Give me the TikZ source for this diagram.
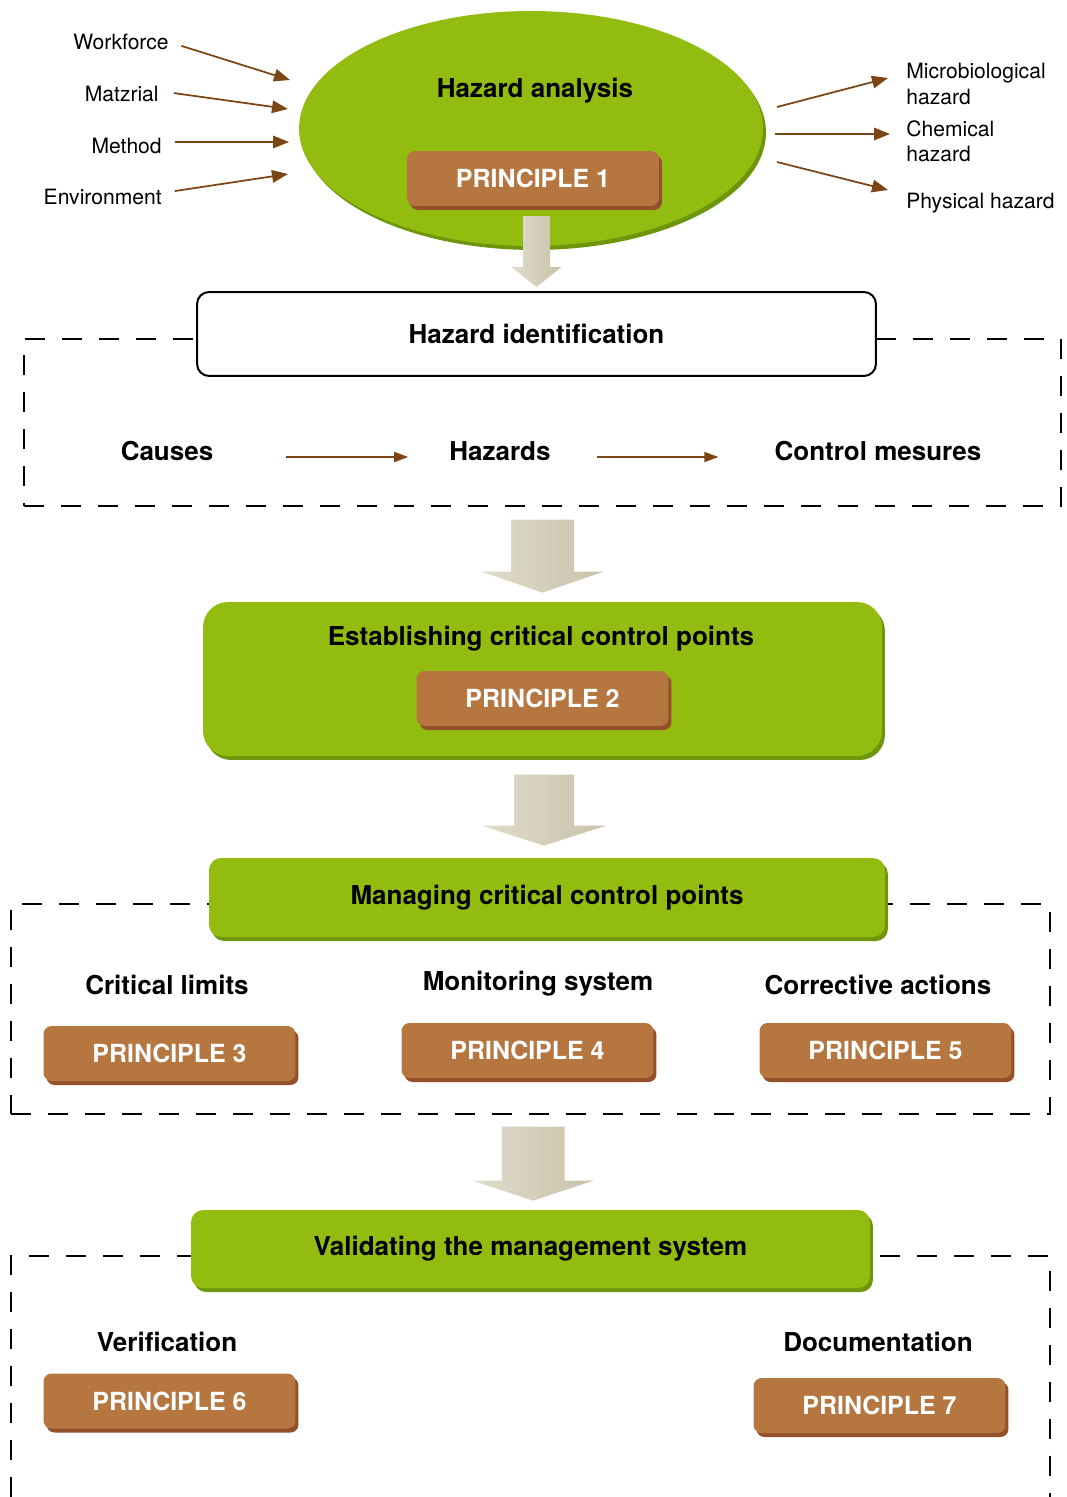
\documentclass[tikz,border=0pt]{standalone}
\usepackage{fontspec}
\setmainfont{TeX Gyre Heros}
\usepackage{tikz}
\usetikzlibrary{shapes.geometric,arrows.meta}
\definecolor{leaf}{HTML}{93BC10}
\definecolor{leafdark}{HTML}{6E960C}
\definecolor{clay}{HTML}{B57640}
\definecolor{claydark}{HTML}{94502A}
\definecolor{rust}{HTML}{7B4614}
\definecolor{stone}{HTML}{C9C2AA}
\definecolor{stonelight}{HTML}{E0DCCB}

\begin{document}
\begin{tikzpicture}[x=0.02cm,y=-0.02cm]
						\tikzstyle{title}=[font=\fontsize{14.8}{17}\selectfont\bfseries]
						\tikzstyle{small}=[font=\fontsize{12}{14.3}\selectfont,inner sep=0pt]
						\tikzstyle{principle}=[rectangle,rounded corners=0.16cm,fill=clay,minimum width=5.04cm,minimum height=1.1cm,text=white,font=\fontsize{14.2}{16}\selectfont\bfseries,preaction={fill=claydark,transform canvas={shift={(0.06cm,-0.08cm)}}}]
						\tikzstyle{greenbox}=[rectangle,fill=leaf,title,preaction={fill=leafdark,transform canvas={shift={(0.06cm,-0.08cm)}}}]
						\tikzstyle{frame}=[draw=black,line width=0.045cm,dash pattern=on 0.4cm off 0.34cm]
						\tikzstyle{feed}=[draw=rust,line width=0.035cm,-{Triangle[length=0.32cm,width=0.25cm]}]
						\tikzstyle{link}=[draw=rust,line width=0.03cm,-{Triangle[length=0.28cm,width=0.2cm]}]
						\tikzstyle{flow}=[left color=stonelight,right color=stone]
						\useasboundingbox (0,0) rectangle (1067,1497);
						\node[ellipse,inner sep=0pt,fill=leaf,minimum width=9.28cm,minimum height=4.7cm,preaction={fill=leafdark,transform canvas={shift={(0.06cm,-0.08cm)}}}](ha) at (531,128.5) {};
						\node[title](hat) at (535,91) {Hazard analysis};
						\node[principle](p1) at (533,178.5) {PRINCIPLE 1};
						\node[small,anchor=east](in1) at (169,42) {Workforce};
						\node[small,anchor=east](in2) at (159,94) {Matzrial};
						\node[small,anchor=east](in3) at (162,146) {Method};
						\node[small,anchor=east](in4) at (162,197) {Environment};
						\coordinate (a1) at (290,80);
						\coordinate (a2) at (288,109);
						\coordinate (a3) at (289,142);
						\coordinate (a4) at (288,174);
						\draw[feed,shorten <=0.26cm](in1.east) -- (a1);
						\draw[feed,shorten <=0.3cm]([yshift=0.06cm]in2.east) -- (a2);
						\draw[feed,shorten <=0.26cm]([yshift=0.08cm]in3.east) -- (a3);
						\draw[feed,shorten <=0.26cm]([yshift=0.08cm]in4.east) -- (a4);
						\node[small,anchor=west,align=left](out1) at (906,84) {Microbiological\\hazard};
						\node[small,anchor=west,align=left](out2) at (906,141) {Chemical\\hazard};
						\node[small,anchor=west](out3) at (906,203) {Physical hazard};
						\coordinate (s1) at (777,107);
						\coordinate (s2) at (775,134);
						\coordinate (s3) at (777,162);
						\coordinate (t1) at (888,78);
						\coordinate (t2) at (890,134);
						\coordinate (t3) at (888,190);
						\draw[feed](s1) -- (t1);
						\draw[feed](s2) -- (t2);
						\draw[feed](s3) -- (t3);
						\node[frame,rectangle,minimum width=20.74cm,minimum height=3.34cm](d1) at (542.5,422.5) {};
						\node[rectangle,draw=black,fill=white,line width=0.04cm,rounded corners=0.24cm,minimum width=13.58cm,minimum height=1.68cm,title](hi) at (536.5,334) {Hazard identification};
						\shade[flow] (hi.north) ++(0,-4) -- ++(-25,-20) -- ++(11.5,0) -- ++(0,-51) -- ++(27,0) -- ++(0,51) -- ++(11.5,0) -- cycle;
						\node[title](c1) at (167,451) {Causes};
						\node[title](c2) at (500,451) {Hazards};
						\node[title](c3) at (878,451) {Control mesures};
						\draw[link,shorten <=1.34cm,shorten >=0.7cm]([yshift=-0.12cm]c1.east) -- ([yshift=-0.12cm]c2.west);
						\draw[link,shorten <=0.8cm,shorten >=1.0cm]([yshift=-0.12cm]c2.east) -- ([yshift=-0.12cm]c3.west);
						\node[greenbox,rounded corners=0.5cm,minimum width=13.58cm,minimum height=3.08cm](g2) at (542.5,679) {};
						\node[title](g2t) at (541,639) {Establishing critical control points};
						\node[principle](p2) at (542.5,698.5) {PRINCIPLE 2};
						\shade[flow] (g2.north) ++(0,-9) -- ++(-61,-21) -- ++(29.5,0) -- ++(0,-52) -- ++(63,0) -- ++(0,52) -- ++(29.5,0) -- cycle;
						\node[frame,rectangle,minimum width=20.78cm,minimum height=4.2cm](d3) at (530.5,1009) {};
						\node[greenbox,rounded corners=0.24cm,minimum width=13.52cm,minimum height=1.58cm](g3) at (547,897.5) {Managing critical control points};
						\shade[flow] (g3.north) ++(-3,-12) -- ++(-62,-20) -- ++(32,0) -- ++(0,-51) -- ++(60,0) -- ++(0,51) -- ++(32,0) -- cycle;
						\node[title](m1) at (167,985) {Critical limits};
						\node[title](m2) at (538,984) {Monitoring system};
						\node[title](m3) at (878,985) {Corrective actions};
						\node[principle](p3) at (169.5,1053.5) {PRINCIPLE 3};
						\node[principle](p4) at (527.5,1050.5) {PRINCIPLE 4};
						\node[principle](p5) at (885.5,1050.5) {PRINCIPLE 5};
						\draw[frame] (11,1497) -- (11,1256) -- (1050,1256) -- (1050,1497);
						\node[greenbox,rounded corners=0.24cm,minimum width=13.58cm,minimum height=1.56cm](g4) at (530.5,1249) {Validating the management system};
						\shade[flow] (g4.north) ++(2.5,-9) -- ++(-60.5,-20) -- ++(29,0) -- ++(0,-54) -- ++(63,0) -- ++(0,54) -- ++(29,0) -- cycle;
						\node[title](v1) at (167,1342) {Verification};
						\node[title](v2) at (878,1342) {Documentation};
						\node[principle](p6) at (169.5,1401) {PRINCIPLE 6};
						\node[principle](p7) at (879.5,1405.5) {PRINCIPLE 7};
					\end{tikzpicture}
\end{document}
